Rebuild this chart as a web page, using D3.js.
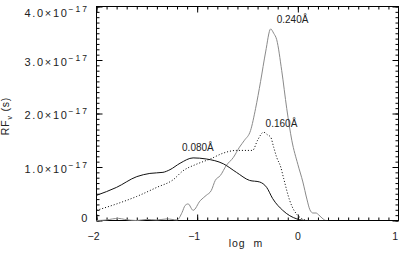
<!DOCTYPE html>
<html>
<head>
<meta charset="utf-8">
<script src="https://cdn.jsdelivr.net/npm/d3@7"></script>
<style>
body { margin: 0; background: #fff; }
text { font-family: "Liberation Sans", Helvetica, Arial, sans-serif; fill: #222; }
</style>
</head>
<body>
<svg id="svg" width="399" height="259"></svg>
<script>
// values of RF_v in units of 1e-17 s
var expo = "\u221217";

var logm080 = [-2, -1.8, -1.6, -1.47, -1.34, -1.27, -1.17, -1.04, -0.91, -0.74, -0.61, -0.48, -0.38, -0.31, -0.25, -0.15, -0.01, 0.09, 0.3];
var rf080   = [0.47, 0.62, 0.82, 0.88, 0.90, 0.95, 1.07, 1.17, 1.15, 1.06, 0.90, 0.75, 0.72, 0.62, 0.41, 0.19, 0.03, 0, 0];

var logm160 = [-2, -1.8, -1.6, -1.4, -1.24, -1.14, -1.01, -0.87, -0.74, -0.61, -0.54, -0.45, -0.40, -0.34, -0.30, -0.27, -0.24, -0.21, -0.17, -0.14, -0.08, 0.02, 0.1, 0.3];
var rf160   = [0.19, 0.31, 0.45, 0.62, 0.76, 0.93, 1.05, 1.15, 1.26, 1.31, 1.31, 1.31, 1.5, 1.65, 1.6, 1.56, 1.37, 1.18, 1.0, 0.78, 0.37, 0.06, 0, 0];

var logm240 = [-2, -1.9, -1.84, -1.78, -1.72, -1.6, -1.5, -1.4, -1.3, -1.25, -1.2, -1.15, -1.12, -1.09, -1.04, -0.97, -0.91, -0.86, -0.82, -0.77, -0.71, -0.64, -0.58, -0.53, -0.47, -0.42, -0.37, -0.32, -0.27, -0.24, -0.21, -0.16, -0.11, -0.06, 0.0, 0.05, 0.09, 0.12, 0.15, 0.18, 0.21, 0.25, 0.28, 0.3];
var rf240   = [0, 0.01, 0.03, 0.04, 0.02, 0, 0.02, 0.01, 0.03, 0.02, 0.01, 0.15, 0.28, 0.31, 0.19, 0.37, 0.47, 0.56, 0.75, 0.84, 1.03, 1.18, 1.37, 1.5, 1.68, 2.09, 2.6, 3.15, 3.58, 3.5, 3.38, 2.8, 2.09, 1.5, 1.05, 0.72, 0.4, 0.2, 0.14, 0.14, 0.1, 0.03, 0, 0];

var yTicks = [0, 1, 2, 3, 4];
var xTicks = [-2, -1, 0, 1];
var labels = ["0.080\u00c5", "0.160\u00c5", "0.240\u00c5"];
var labelAt = [[-1.15, 1.29], [-0.32, 1.75], [-0.21, 3.69]];

var svg = d3.select("#svg");
var x = d3.scaleLinear().domain([-2, 1]).range([96.5, 398.5]);
var y = d3.scaleLinear().domain([0, 4]).range([220.5, 6.5]);

var minorX = d3.range(-2, 1.0001, 0.1).map(function(d){ return +d.toFixed(1); });
var minorY = d3.range(0, 4.0001, 0.1).map(function(d){ return +d.toFixed(1); });

function ticks(axis, vals, size, tr){
 var g = svg.append("g").attr("transform", tr)
  .call(axis.tickValues(vals).tickSize(size).tickSizeOuter(0).tickFormat(""));
 g.select(".domain").remove();
 g.selectAll("line").attr("stroke", "#000");
}
ticks(d3.axisLeft(y), minorY, -3, "translate(96.5,0)");
ticks(d3.axisLeft(y), yTicks, -6, "translate(96.5,0)");
ticks(d3.axisRight(y), minorY, -3, "translate(398.5,0)");
ticks(d3.axisRight(y), yTicks, -6, "translate(398.5,0)");
ticks(d3.axisBottom(x), minorX, -3, "translate(0,220.5)");
ticks(d3.axisBottom(x), xTicks, -6, "translate(0,220.5)");
ticks(d3.axisTop(x), minorX, -3, "translate(0,6.5)");
ticks(d3.axisTop(x), xTicks, -6, "translate(0,6.5)");

svg.append("rect")
 .attr("x", 96.5).attr("y", 6.5)
 .attr("width", 302).attr("height", 214)
 .style("fill", "none").style("stroke", "#000").style("stroke-width", 1);

// y labels
yTicks.forEach(function(v){
 var t = svg.append("text")
  .attr("x", 89)
  .attr("y", Math.max(y(v) + 5.5, 16.5))
  .attr("text-anchor", "end")
  .style("font-size", "11px")
  .style("letter-spacing", "1.7px");
 if (v === 0) {
  t.attr("y", y(v) + 1).text("0");
 } else {
  t.append("tspan").text(v.toFixed(1) + "\u00d710");
  t.append("tspan").attr("dy", -5).style("font-size", "8.5px").style("letter-spacing", "2px").text(expo);
 }
});

// x labels
xTicks.forEach(function(v){
 svg.append("text")
  .attr("x", v === 1 ? 398 : x(v) - (v < 0 ? 3 : 0))
  .attr("y", 240)
  .attr("text-anchor", v === 1 ? "end" : "middle")
  .style("font-size", "10.5px")
  .text(v < 0 ? "\u2212" + Math.abs(v) : String(v));
});

svg.append("text")
 .attr("x", 246).attr("y", 247)
 .attr("text-anchor", "middle")
 .style("font-size", "10.5px")
 .style("letter-spacing", "1px")
 .style("word-spacing", "4px")
 .text("log m");

var yt = svg.append("text")
 .attr("transform", "translate(9,116) rotate(-90)")
 .attr("text-anchor", "middle")
 .style("font-size", "10.5px")
 .style("letter-spacing", "0.8px");
yt.append("tspan").text("RF");
yt.append("tspan").attr("dy", 2.5).style("font-size", "7px").text("v");
yt.append("tspan").attr("dy", -2.5).text(" (s)");

var line = d3.line()
 .x(function(d){ return x(d[0]); })
 .y(function(d){ return y(d[1]); })
 .curve(d3.curveMonotoneX);

var plot = svg.append("g");
plot.append("path")
 .attr("d", line(d3.zip(logm240, rf240)))
 .style("fill", "none").style("stroke", "#8a8a8a").style("stroke-width", 1);
plot.append("path")
 .attr("d", line(d3.zip(logm160, rf160)))
 .style("fill", "none").style("stroke", "#000").style("stroke-width", 1)
 .style("stroke-dasharray", "1,2");
plot.append("path")
 .attr("d", line(d3.zip(logm080, rf080)))
 .style("fill", "none").style("stroke", "#111").style("stroke-width", 1);

labels.forEach(function(s, i){
 svg.append("text")
  .attr("x", x(labelAt[i][0]))
  .attr("y", y(labelAt[i][1]))
  .style("font-size", "10px")
  .text(s);
});
</script>
</body>
</html>
